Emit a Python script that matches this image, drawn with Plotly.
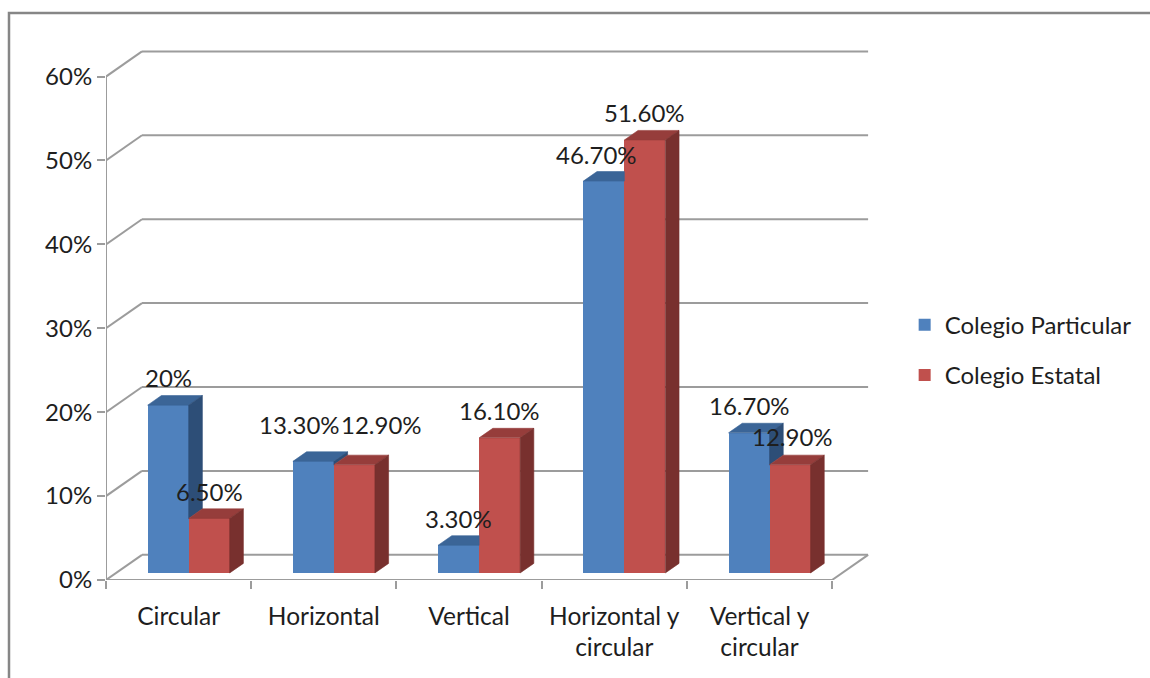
import plotly.graph_objects as go

# ---- data -------------------------------------------------------------
categories = ["Circular", "Horizontal", "Vertical",
              "Horizontal y<br>circular", "Vertical y<br>circular"]
particular = [20.0, 13.3, 3.3, 46.7, 16.7]
estatal = [6.5, 12.9, 16.1, 51.6, 12.9]
particular_labels = ["20%", "13.30%", "3.30%", "46.70%", "16.70%"]
estatal_labels = ["6.50%", "12.90%", "16.10%", "51.60%", "12.90%"]
y_ticks = [0, 10, 20, 30, 40, 50, 60]
y_tick_text = ["0%", "10%", "20%", "30%", "40%", "50%", "60%"]

# ---- styling / pseudo-3D geometry (in axis units) ---------------------
FONT = "Lato, Carlito, Calibri, sans-serif"
TEXT = "#1e1e1e"
GRID = "#9c9c9c"
BLUE, BLUE_TOP, BLUE_SIDE = "#4f81bd", "#3b6597", "#2d4e77"
RED, RED_TOP, RED_SIDE = "#c0504d", "#963d3b", "#78302e"

DX, DY = 0.248, 3.0          # depth of the chart box (x in categories, y in %)
FRONT, DEPTH = 0.28, 0.38    # bar front plane and bar depth as box fractions
BAR_W = 0.2824
BX, BY = FRONT * DX, FRONT * DY
DDX, DDY = DEPTH * DX, DEPTH * DY
N = len(categories)

blue_x = [i + 0.5 + BX - BAR_W / 2 for i in range(N)]
red_x = [i + 0.5 + BX + BAR_W / 2 for i in range(N)]

fig = go.Figure()

# front faces of the bars
fig.add_trace(go.Bar(x=blue_x, y=particular, base=BY, width=BAR_W,
                     marker=dict(color=BLUE, line=dict(width=0)),
                     name="Colegio Particular", legendgroup="p",
                     hoverinfo="skip"))
fig.add_trace(go.Bar(x=red_x, y=estatal, base=BY, width=BAR_W,
                     marker=dict(color=RED, line=dict(width=0)),
                     name="Colegio Estatal", legendgroup="e",
                     hoverinfo="skip"))


def top_face(xc, h, clip_right):
    x0, x1 = xc - BAR_W / 2, xc + BAR_W / 2
    y = h + BY
    if clip_right:
        return [x0, x1, x1, x0 + DDX, x0, None], [y, y, y + DDY, y + DDY, y, None]
    return ([x0, x1, x1 + DDX, x0 + DDX, x0, None],
            [y, y, y + DDY, y + DDY, y, None])


def side_face(xc, lo, hi):
    x1 = xc + BAR_W / 2
    return ([x1, x1 + DDX, x1 + DDX, x1, x1, None],
            [lo + BY, lo + BY + DDY, hi + BY + DDY, hi + BY, lo + BY, None])


faces = {"bt": ([], []), "bs": ([], []), "rt": ([], []), "rs": ([], [])}
for i in range(N):
    b, r = particular[i], estatal[i]
    # blue top is hidden behind the red front where the red bar is taller
    fx, fy = top_face(blue_x[i], b, clip_right=r >= b)
    faces["bt"][0].extend(fx); faces["bt"][1].extend(fy)
    if b > r:
        fx, fy = side_face(blue_x[i], r, b)
        faces["bs"][0].extend(fx); faces["bs"][1].extend(fy)
    fx, fy = top_face(red_x[i], r, clip_right=False)
    faces["rt"][0].extend(fx); faces["rt"][1].extend(fy)
    fx, fy = side_face(red_x[i], 0, r)
    faces["rs"][0].extend(fx); faces["rs"][1].extend(fy)

for key, col in [("bt", BLUE_TOP), ("bs", BLUE_SIDE), ("rt", RED_TOP), ("rs", RED_SIDE)]:
    xs, ys = faces[key]
    fig.add_trace(go.Scatter(x=xs, y=ys, mode="lines", fill="toself",
                             fillcolor=col, line=dict(width=0.6, color=col),
                             showlegend=False, hoverinfo="skip"))

# ---- walls, floor and front axis lines --------------------------------
shapes = []
line = dict(color=GRID, width=2)
for v in y_ticks:
    shapes.append(dict(type="line", xref="x", yref="y", x0=DX, y0=v + DY,
                       x1=N + DX, y1=v + DY, line=line, layer="below"))
    shapes.append(dict(type="line", xref="x", yref="y", x0=0, y0=v,
                       x1=DX, y1=v + DY, line=line, layer="below"))
shapes.append(dict(type="line", xref="x", yref="y", x0=0, y0=0, x1=N, y1=0,
                   line=line, layer="below"))
shapes.append(dict(type="line", xref="x", yref="y", x0=N, y0=0, x1=N + DX,
                   y1=DY, line=line, layer="below"))
shapes.append(dict(type="line", xref="x", yref="y", x0=0, y0=0, x1=0,
                   y1=y_ticks[-1], line=line, layer="below"))
# outer frame of the chart
shapes.append(dict(type="rect", xref="paper", yref="paper", x0=-0.1268,
                   y0=-0.4, x1=1.6, y1=1.0559,
                   line=dict(color="#868686", width=2.5), layer="below"))

# ---- data labels ------------------------------------------------------
p_shift = [(0, 28), (-14, 37), (0, 27), (-7, 27), (0, 27)]
e_shift = [(0, 27), (27, 40), (0, 27), (0, 28), (2, 28)]
annotations = []
for i in range(N):
    for xc, val, txt, (sx, sy) in [(blue_x[i], particular[i], particular_labels[i], p_shift[i]),
                                   (red_x[i], estatal[i], estatal_labels[i], e_shift[i])]:
        annotations.append(dict(x=xc, y=val + BY, xref="x", yref="y", text=txt,
                                showarrow=False, xshift=sx, yshift=sy,
                                font=dict(family=FONT, size=24, color=TEXT)))

fig.update_layout(
    width=1150, height=678,
    margin=dict(l=106, r=279, t=43, b=98),
    paper_bgcolor="white", plot_bgcolor="white",
    barmode="overlay", bargap=0,
    shapes=shapes, annotations=annotations,
    font=dict(family=FONT, size=22, color=TEXT),
    showlegend=True,
    legend=dict(x=1.044, y=0.428, xanchor="left", yanchor="middle",
                tracegroupgap=16, font=dict(family=FONT, size=24, color=TEXT),
                bgcolor="rgba(0,0,0,0)"),
    xaxis=dict(range=[0, N + DX + 0.02], tickvals=[i + 0.5 for i in range(N)],
               ticktext=categories, ticks="", showgrid=False, zeroline=False,
               showline=False, fixedrange=True, ticklabelstandoff=19,
               minor=dict(tickvals=list(range(N + 1)), ticks="outside",
                          ticklen=8, tickwidth=2, tickcolor=GRID, showgrid=False),
               tickfont=dict(family=FONT, size=24.5, color=TEXT)),
    yaxis=dict(range=[0, 64], tickvals=y_ticks, ticktext=y_tick_text,
               ticks="outside", ticklen=8, tickwidth=2, tickcolor=GRID,
               showgrid=False, zeroline=False, showline=False, fixedrange=True,
               tickfont=dict(family=FONT, size=24, color=TEXT)),
)

fig.write_html("out.html")
